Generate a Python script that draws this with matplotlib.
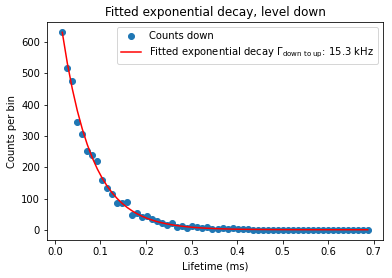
import numpy as np
import matplotlib
matplotlib.use("Agg")
import matplotlib.pyplot as plt

# Lifetime bins (ms)
t_start = 0.0161
bin_width = 0.011
counts = [631, 516, 476, 344, 306, 253, 240, 220, 159, 136,
          115, 87, 87, 91, 48, 56, 41, 46, 35, 31,
          24, 17, 24, 10, 13, 6, 13, 12, 7, 10,
          3, 3, 7, 4, 8, 4, 4, 4, 2, 1,
          2, 1, 1, 0, 1, 0, 0, 1, 0, 0,
          0, 0, 1, 0, 0, 0, 0, 0, 0, 0,
          0, 0]
lifetimes = t_start + bin_width * np.arange(len(counts))

# Fit parameters
fit_amplitude = 803.0
fit_rate_khz = 15.3
fit_offset = 2.0
fit_curve = fit_amplitude * np.exp(-fit_rate_khz * lifetimes) + fit_offset

fig = plt.figure(figsize=(392/72, 278/72), dpi=72)
ax = fig.add_axes([47/392, 1-240.3/278, (383-47)/392, (240.3-22)/278])
ax.scatter(lifetimes, counts, color='C0', label='Counts down')
ax.plot(lifetimes, fit_curve, color='red',
        label=r'Fitted exponential decay $\Gamma_{\mathrm{down\ to\ up}}$: %.1f kHz' % fit_rate_khz)
ax.set_title('Fitted exponential decay, level down')
ax.set_xlabel('Lifetime (ms)')
ax.set_ylabel('Counts per bin')
ax.legend(loc='upper right')
fig.savefig('out.png', dpi=72)
